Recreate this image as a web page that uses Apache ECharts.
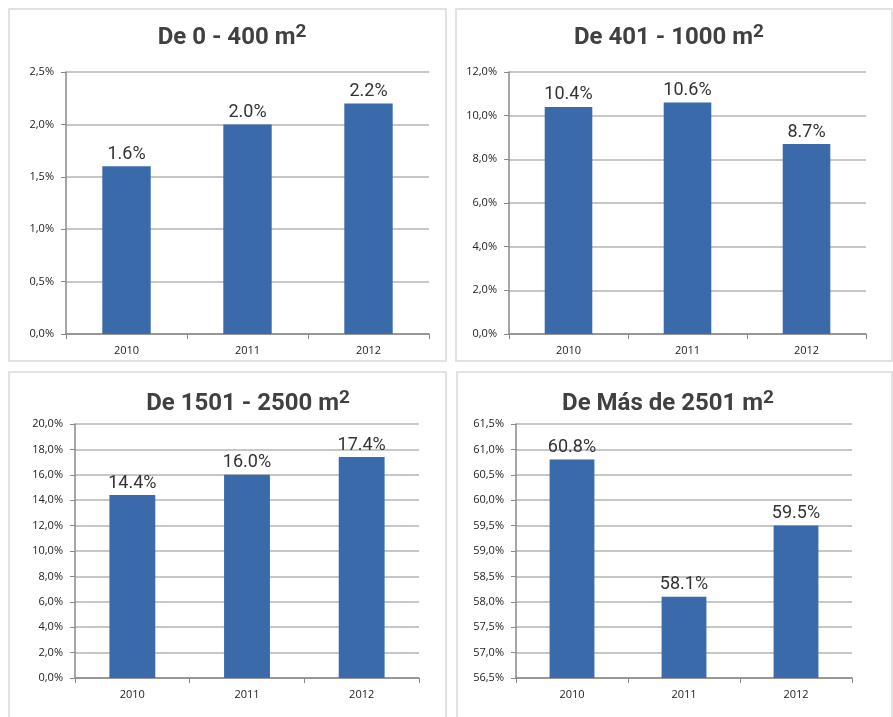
<!DOCTYPE html>
<html>
<head>
<meta charset="utf-8">
<script src="https://cdn.jsdelivr.net/npm/echarts@6/dist/echarts.min.js"></script>
<style>html,body{margin:0;padding:0;background:#fff;}#c{width:893px;height:717px;}</style>
</head>
<body>
<div id="c"></div>
<script>
const years = ['2010', '2011', '2012'];
const titles = ['De 0 - 400 m', 'De 401 - 1000 m', 'De 1501 - 2500 m', 'De Más de 2501 m'];
const values1 = [1.6, 2.0, 2.2];
const values2 = [10.4, 10.6, 8.7];
const values3 = [14.4, 16.0, 17.4];
const values4 = [60.8, 58.1, 59.5];
const axisMin = [0, 0, 0, 56.5];
const axisMax = [2.5, 12, 20, 61.5];
const axisStep = [0.5, 2, 2, 0.5];

const allValues = [values1, values2, values3, values4];
const grids = [
  {left: 66, top: 72, right: 464, bottom: 383},
  {left: 509, top: 72, right: 27, bottom: 383},
  {left: 75, top: 424, right: 474, bottom: 39},
  {left: 516, top: 424, right: 41, bottom: 39}
];
const titlePos = [
  {x: 227, y: 18}, {x: 664, y: 18}, {x: 243, y: 384}, {x: 663, y: 384}
];
const boxes = [
  [9, 9, 437, 352], [456, 9, 436, 352], [9, 372, 437, 350], [457, 372, 435, 350]
];
const barColor = '#3A6AAA';

const option = {
  backgroundColor: '#fff',
  animation: false,
  title: titles.map((t, i) => ({
    text: '{a|' + t + '}{s|2}',
    left: titlePos[i].x,
    top: titlePos[i].y,
    textAlign: 'center',
    textStyle: {
      rich: {
        a: {fontFamily: 'Roboto', fontWeight: 'bold', fontSize: 24, color: '#404040', lineHeight: 30},
        s: {fontFamily: 'Roboto', fontWeight: 'bold', fontSize: 19, color: '#404040', lineHeight: 20, verticalAlign: 'top'}
      }
    }
  })),
  graphic: boxes.map(b => ({
    type: 'rect', shape: {x: b[0], y: b[1], width: b[2], height: b[3]},
    style: {fill: 'none', stroke: '#d9d9d9', lineWidth: 1.5}, z: -1
  })),
  grid: grids,
  xAxis: grids.map((g, i) => ({
    type: 'category', gridIndex: i, data: years,
    axisLine: {lineStyle: {color: '#888', width: 1.5}},
    axisTick: {show: true, length: 5, lineStyle: {color: '#888'}},
    axisLabel: {color: '#222', fontFamily: 'Open Sans', fontSize: 11, margin: 11}
  })),
  yAxis: grids.map((g, i) => ({
    type: 'value', gridIndex: i, min: axisMin[i], max: axisMax[i], interval: axisStep[i],
    axisLine: {show: true, lineStyle: {color: '#888', width: 1.5}},
    axisTick: {show: true, length: 5, lineStyle: {color: '#888'}},
    splitLine: {lineStyle: {color: '#b5b5b5', width: 1.5}},
    axisLabel: {
      color: '#222', fontFamily: 'Open Sans', fontSize: 11, margin: 12,
      formatter: v => v.toFixed(1).replace('.', ',') + '%'
    }
  })),
  series: allValues.map((vals, i) => ({
    type: 'bar', xAxisIndex: i, yAxisIndex: i, data: vals, barWidth: '40%',
    itemStyle: {color: barColor},
    label: {
      show: true, position: 'top', distance: 3,
      fontFamily: 'Roboto', fontSize: 18, color: '#333',
      formatter: p => p.value.toFixed(1) + '%'
    }
  }))
};

const chart = echarts.init(document.getElementById('c'), null, {renderer: 'canvas'});
chart.setOption(option);
</script>
</body>
</html>
